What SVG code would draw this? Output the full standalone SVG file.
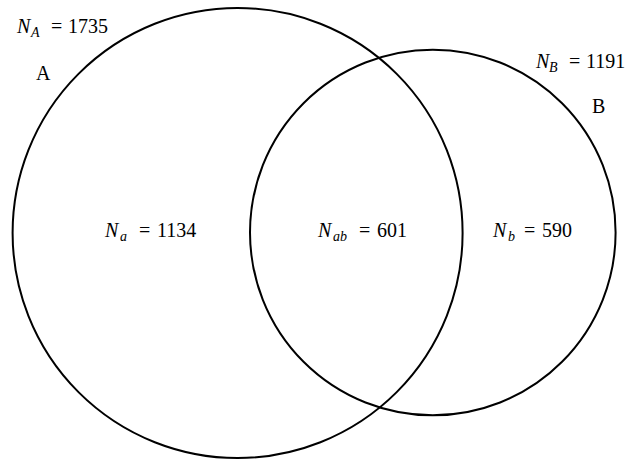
<svg xmlns="http://www.w3.org/2000/svg" width="627" height="459" viewBox="0 0 627 459">
<style>
.c{fill:none;stroke:#000;stroke-width:2}
text{font-family:"Liberation Serif","DejaVu Serif",serif;font-size:20px;fill:#000}
.i{font-style:italic}
.s{font-style:italic;font-size:14px}
</style>
<rect width="627" height="459" fill="#fff"/>
<g id="setA">
<circle class="c" cx="237.6" cy="233" r="225"/>
<text x="17" y="33"><tspan class="i">N</tspan><tspan class="s" x="31" y="37">A</tspan><tspan x="51" y="33">=</tspan><tspan x="68" y="33">1735</tspan></text>
<text x="36" y="80">A</text>
</g>
<g id="setB">
<circle class="c" cx="432.8" cy="232.5" r="182.8"/>
<text x="536" y="68"><tspan class="i">N</tspan><tspan class="s" x="549" y="72">B</tspan><tspan x="569" y="68">=</tspan><tspan x="586" y="68">1191</tspan></text>
<text x="592" y="113">B</text>
</g>
<g id="onlyA">
<text x="105" y="237"><tspan class="i">N</tspan><tspan class="s" x="120" y="241">a</tspan><tspan x="139" y="237">=</tspan><tspan x="157" y="237">1134</tspan></text>
</g>
<g id="both">
<text x="318" y="237"><tspan class="i">N</tspan><tspan class="s" x="333" y="241">ab</tspan><tspan x="359" y="237">=</tspan><tspan x="377" y="237">601</tspan></text>
</g>
<g id="onlyB">
<text x="493" y="237"><tspan class="i">N</tspan><tspan class="s" x="508" y="241">b</tspan><tspan x="524" y="237">=</tspan><tspan x="542" y="237">590</tspan></text>
</g>
<g id="connectors"/>
</svg>
